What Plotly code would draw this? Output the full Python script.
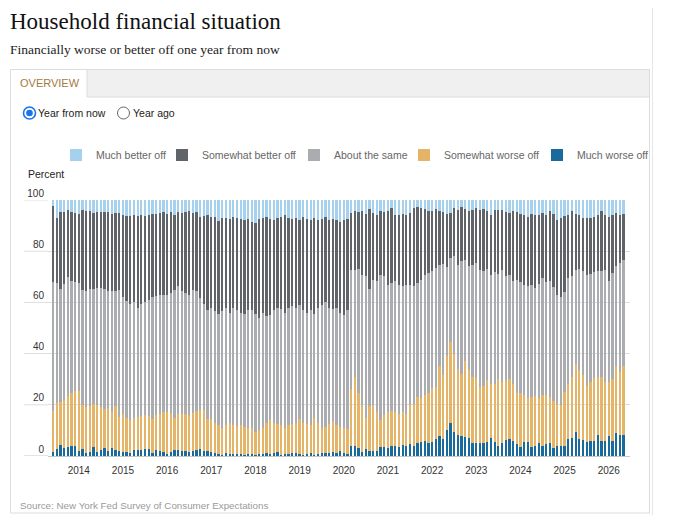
import pandas as pd
import plotly.graph_objects as go

# ---------------- data (percent of respondents, monthly Jun 2013 - May 2026) ----------------
months = pd.date_range("2013-06-01", periods=156, freq="MS").strftime("%Y-%m").tolist()

much_worse = [
    1.5, 2.8, 4.2, 3.3, 3.6, 3.8, 3.8, 2.0, 2.8, 1.2,
    1.5, 3.5, 1.5, 2.5, 3.0, 1.8, 3.0, 2.4, 2.0, 1.5,
    1.5, 1.0, 2.5, 2.5, 2.5, 2.8, 2.7, 1.0, 2.2, 2.0,
    1.5, 0.8, 1.5, 2.4, 2.2, 2.0, 1.8, 1.5, 2.0, 2.5,
    2.8, 1.8, 1.8, 1.5, 1.0, 0.7, 0.5, 1.0, 0.8, 0.8,
    0.7, 0.7, 0.5, 0.8, 0.8, 0.5, 0.7, 0.6, 1.0, 0.8,
    1.2, 1.5, 0.5, 0.6, 0.8, 1.3, 1.0, 0.6, 0.4, 0.8,
    1.0, 0.5, 0.7, 1.2, 1.0, 1.3, 1.6, 1.2, 1.8, 1.0,
    0.8, 4.0, 4.0, 3.0, 1.7, 2.7, 2.0, 1.8, 2.0, 3.6,
    3.5, 3.0, 4.0, 4.0, 3.5, 4.3, 4.0, 4.6, 3.8, 5.0,
    5.6, 5.9, 5.0, 5.3, 6.5, 8.0, 6.8, 10.0, 13.0, 9.3,
    8.2, 8.0, 7.6, 6.9, 5.0, 5.0, 5.0, 5.2, 5.6, 7.2,
    5.3, 4.0, 5.0, 6.3, 6.7, 5.9, 4.6, 3.7, 5.3, 5.6,
    3.7, 4.0, 5.0, 4.0, 4.6, 5.0, 3.0, 4.0, 4.0, 4.0,
    6.7, 7.2, 9.3, 6.5, 6.3, 5.6, 6.0, 6.0, 8.2, 6.0,
    6.0, 8.0, 5.9, 8.9, 8.2, 8.2,
]

somewhat_worse = [
    16.0, 18.0, 16.8, 18.7, 19.8, 20.9, 21.5, 23.3, 17.2, 17.8,
    18.0, 17.0, 18.5, 16.5, 15.3, 16.8, 14.3, 17.1, 13.3, 14.9,
    13.5, 13.0, 12.2, 12.8, 13.1, 13.2, 13.1, 13.3, 13.8, 14.6,
    15.5, 16.2, 15.4, 12.6, 14.2, 14.6, 14.6, 14.5, 14.9, 15.2,
    15.2, 16.2, 12.7, 12.8, 12.0, 11.6, 10.5, 11.0, 11.9, 11.5,
    11.1, 11.3, 11.0, 10.2, 10.2, 9.0, 9.3, 10.4, 12.0, 13.2,
    11.8, 11.0, 11.5, 10.4, 11.2, 11.2, 12.0, 13.9, 12.6, 11.7,
    11.0, 14.5, 12.3, 9.8, 10.5, 11.2, 11.9, 10.8, 9.7, 10.0,
    9.7, 22.0, 27.0, 21.5, 18.3, 12.3, 17.5, 18.2, 15.0, 10.4,
    12.5, 14.0, 13.5, 13.0, 13.0, 12.7, 12.5, 15.4, 16.7, 18.0,
    16.9, 18.1, 19.5, 21.2, 20.5, 27.0, 24.7, 29.0, 31.5, 30.7,
    25.8, 24.0, 29.4, 26.6, 26.0, 25.5, 22.0, 22.3, 23.9, 20.8,
    22.7, 26.0, 24.0, 23.2, 23.3, 22.1, 19.9, 20.8, 18.7, 16.9,
    19.3, 19.5, 17.5, 20.0, 19.4, 18.0, 18.5, 16.5, 16.0, 21.0,
    21.3, 23.8, 26.7, 27.0, 25.2, 21.9, 23.0, 24.5, 22.8, 25.0,
    23.0, 21.0, 24.1, 26.1, 24.8, 26.8,
]

about_same = [
    50.5, 46.6, 44.4, 45.0, 46.6, 43.6, 42.7, 42.4, 45.0, 45.4,
    45.8, 44.9, 45.8, 46.7, 47.0, 45.9, 47.1, 44.9, 49.5, 45.6,
    45.5, 45.2, 45.3, 42.7, 43.6, 44.0, 45.2, 47.7, 46.4, 46.1,
    45.7, 46.0, 46.6, 50.0, 50.0, 47.8, 47.3, 47.0, 48.1, 46.7,
    43.8, 41.2, 42.5, 43.7, 43.5, 43.3, 45.5, 46.0, 43.3, 45.7,
    45.4, 44.0, 44.0, 46.0, 46.0, 46.0, 44.0, 45.0, 41.5, 41.0,
    44.0, 45.5, 45.5, 45.0, 46.0, 46.0, 45.0, 44.5, 44.0, 43.5,
    45.0, 40.5, 45.0, 48.0, 48.5, 45.5, 44.0, 46.0, 44.5, 44.0,
    46.5, 46.8, 41.5, 48.7, 50.8, 55.2, 45.9, 48.9, 51.5, 56.6,
    54.2, 49.9, 50.1, 51.2, 50.4, 49.3, 50.2, 46.9, 45.8, 44.6,
    46.4, 46.8, 47.0, 45.9, 46.5, 39.5, 43.5, 34.7, 32.9, 38.0,
    40.8, 44.0, 39.7, 40.6, 43.8, 44.9, 45.8, 44.6, 43.7, 42.8,
    43.9, 41.1, 43.8, 40.7, 40.8, 40.5, 44.4, 43.5, 42.9, 43.8,
    43.7, 42.1, 44.7, 45.5, 44.0, 45.5, 44.5, 42.5, 42.0, 39.0,
    41.5, 39.2, 36.8, 39.7, 40.6, 43.3, 42.1, 41.4, 41.1, 41.4,
    43.8, 39.2, 41.5, 39.1, 42.4, 41.7,
]

somewhat_better = [
    29.8, 25.4, 30.1, 28.4, 26.0, 26.9, 27.0, 26.9, 31.0, 31.4,
    30.4, 29.4, 29.6, 29.7, 29.9, 30.7, 30.1, 30.6, 30.2, 32.1,
    33.3, 34.6, 34.0, 35.8, 34.8, 33.8, 33.0, 32.6, 32.2, 32.3,
    32.5, 31.6, 31.7, 29.3, 28.8, 30.6, 31.5, 32.7, 30.0, 31.0,
    31.7, 34.6, 37.0, 35.5, 37.0, 36.1, 36.5, 35.0, 36.5, 35.5,
    35.7, 36.5, 36.5, 35.5, 34.5, 35.5, 38.5, 37.0, 39.0, 37.5,
    35.0, 35.0, 36.0, 38.0, 35.0, 34.0, 35.0, 33.0, 36.5, 36.5,
    35.0, 37.5, 34.0, 33.5, 33.5, 34.0, 35.0, 34.0, 35.5, 37.0,
    35.5, 22.2, 23.1, 22.2, 25.1, 24.4, 30.9, 26.1, 25.5, 25.0,
    25.2, 29.0, 29.1, 26.1, 27.1, 28.3, 27.3, 28.1, 30.4, 29.6,
    28.1, 25.5, 24.4, 23.2, 22.8, 21.4, 20.4, 20.9, 17.6, 18.7,
    21.2, 21.1, 19.7, 21.7, 21.2, 21.3, 23.2, 24.3, 22.6, 23.5,
    24.1, 24.9, 23.2, 25.2, 24.2, 27.3, 26.5, 26.6, 27.1, 27.2,
    27.9, 28.4, 27.1, 25.5, 26.0, 27.1, 28.6, 29.0, 30.8, 29.7,
    24.8, 25.7, 21.8, 20.8, 20.9, 22.0, 21.9, 21.4, 21.9, 23.2,
    21.2, 25.1, 22.5, 20.9, 18.9, 17.9,
]

much_better = [
    2.2, 7.2, 4.5, 4.6, 4.0, 4.8, 5.0, 5.4, 4.0, 4.2,
    4.3, 5.2, 4.6, 4.6, 4.8, 4.8, 5.5, 5.0, 5.0, 5.9,
    6.2, 6.2, 6.0, 6.2, 6.0, 6.2, 6.0, 5.4, 5.4, 5.0,
    4.8, 5.4, 4.8, 5.7, 4.8, 5.0, 4.8, 4.3, 5.0, 4.6,
    6.5, 6.2, 6.0, 6.5, 6.5, 8.3, 7.0, 7.0, 7.5, 6.5,
    7.1, 7.5, 8.0, 7.5, 8.5, 9.0, 7.5, 7.0, 6.5, 7.5,
    8.0, 7.0, 6.5, 6.0, 7.0, 7.5, 7.0, 8.0, 6.5, 7.5,
    8.0, 7.0, 8.0, 7.5, 6.5, 8.0, 7.5, 8.0, 8.5, 8.0,
    7.5, 5.0, 4.4, 4.6, 4.1, 5.4, 3.7, 5.0, 6.0, 4.4,
    4.6, 4.1, 3.3, 5.7, 6.0, 5.4, 6.0, 5.0, 3.3, 2.8,
    3.0, 3.7, 4.1, 4.4, 3.7, 4.1, 4.6, 5.4, 5.0, 3.3,
    4.0, 2.9, 3.6, 4.2, 4.0, 3.3, 4.0, 3.6, 4.2, 5.7,
    4.0, 4.0, 4.0, 4.6, 5.0, 4.2, 4.6, 5.4, 6.0, 6.5,
    5.4, 6.0, 5.7, 5.0, 6.0, 4.4, 5.4, 8.0, 7.2, 6.3,
    5.7, 4.1, 5.4, 6.0, 7.0, 7.2, 7.0, 6.7, 6.0, 4.4,
    6.0, 6.7, 6.0, 5.0, 5.7, 5.4,
]

year_tick_vals = [f"{y}-01" for y in range(2014, 2027)]
year_tick_text = [str(y) for y in range(2014, 2027)]
y_ticks = [0, 20, 40, 60, 80, 100]

# ---------------- layout geometry ----------------
# The page body has a default 8px margin, so the figure is drawn 8px in from the
# window edge; all coordinates below are window pixels.
OFF = 8
W, H = 680 - 2 * OFF, 523 - 2 * OFF
PL, PR, PT, PB = 48, 630, 200, 456          # plot area in window pixels


def xp(px):
    return (px - PL) / (PR - PL)


def yp(py):
    return (PB - py) / (PB - PT)


# name, values, colour, legend id, legend left edge (window px)
series = [
    ("Much worse off", much_worse, "#1a6a9c", "legend5", 537),
    ("Somewhat worse off", somewhat_worse, "#e4b468", "legend4", 404),
    ("About the same", about_same, "#aaacaf", "legend3", 294),
    ("Somewhat better off", somewhat_better, "#606469", "legend2", 162),
    ("Much better off", much_better, "#a6d1ee", "legend", 56),
]

font_sans = "Liberation Sans, Arial, sans-serif"
font_serif = "Liberation Serif, Georgia, serif"

fig = go.Figure()
legend_layouts = {}
for name, vals, color, leg, left in series:
    fig.add_trace(go.Bar(
        x=months, y=vals, name=name,
        marker=dict(color=color, line=dict(width=0)),
        legend=leg,
        hovertemplate="%{x}: %{y}%<extra>" + name + "</extra>",
    ))
    legend_layouts[leg] = dict(
        orientation="h", x=xp(left), xanchor="left", y=yp(155), yanchor="middle",
        font=dict(family=font_sans, size=10.5, color="#666666"),
        bgcolor="rgba(0,0,0,0)", borderwidth=0,
        itemclick=False, itemdoubleclick=False,
    )

shapes = []
# outer container
shapes.append(dict(type="rect", xref="paper", yref="paper",
                   x0=xp(10.5), x1=xp(649.5), y0=yp(69.5), y1=yp(513),
                   line=dict(color="#dcdcdc", width=1), fillcolor="rgba(0,0,0,0)", layer="below"))
# tab strip
shapes.append(dict(type="rect", xref="paper", yref="paper",
                   x0=xp(87), x1=xp(649.5), y0=yp(69.5), y1=yp(97),
                   line=dict(color="#dcdcdc", width=1), fillcolor="#f0f0f0", layer="below"))
# page edge line
shapes.append(dict(type="line", xref="paper", yref="paper",
                   x0=xp(652.5), x1=xp(652.5), y0=yp(OFF), y1=yp(523 - OFF),
                   line=dict(color="#e6e6e6", width=1)))


def circle(cx, cy, r, **kw):
    return dict(type="circle", xref="paper", yref="paper",
                x0=xp(cx - r), x1=xp(cx + r), y0=yp(cy + r), y1=yp(cy - r), **kw)


# radio buttons
shapes.append(circle(29.5, 113, 6, line=dict(color="#1a73e8", width=1.6), fillcolor="white"))
shapes.append(circle(29.5, 113, 3.3, line=dict(width=0), fillcolor="#1a73e8"))
shapes.append(circle(123.5, 113, 6, line=dict(color="#666666", width=1), fillcolor="white"))
# grid line stubs to the left of the plot area (under the tick labels)
for v in y_ticks:
    shapes.append(dict(type="line", xref="paper", yref="y",
                       x0=xp(24), x1=0, y0=v, y1=v,
                       line=dict(color="#c8c8c8" if v == 0 else "#dedede", width=1),
                       layer="below"))


def ann(px, py, text, size, color, family=font_sans):
    return dict(xref="paper", yref="paper", x=xp(px), y=yp(py), text=text,
                showarrow=False, xanchor="left", yanchor="middle",
                font=dict(family=family, size=size, color=color))


annotations = [
    ann(8, 21, "Household financial situation", 23, "#111111", font_serif),
    ann(8, 49, "Financially worse or better off one year from now", 13.5, "#222222", font_serif),
    ann(18, 82.5, "OVERVIEW", 11, "#a47a3c"),
    ann(36, 113, "Year from now", 10.5, "#222222"),
    ann(131, 113, "Year ago", 10.5, "#222222"),
    ann(26, 173.5, "Percent", 10.5, "#222222"),
    ann(18, 505.5, "Source: New York Fed Survey of Consumer Expectations", 9.8, "#9a9a9a"),
]

fig.update_layout(
    width=W, height=H,
    margin=dict(l=PL - OFF, r=W - (PR - OFF), t=PT - OFF, b=H - (PB - OFF), pad=0),
    paper_bgcolor="white", plot_bgcolor="white",
    barmode="stack", bargap=0.38,
    font=dict(family=font_sans, size=10, color="#333333"),
    showlegend=True,
    shapes=shapes,
    annotations=annotations,
    hovermode="closest",
    **legend_layouts,
)
fig.update_xaxes(
    type="category", categoryorder="array", categoryarray=months,
    range=[-1.36, 156.77],
    tickmode="array", tickvals=year_tick_vals, ticktext=year_tick_text,
    showgrid=False, zeroline=False, ticks="",
    showline=True, linecolor="#c8c8c8", linewidth=1,
    ticklabelstandoff=5,
    tickfont=dict(size=10, color="#333333"),
    automargin=False, fixedrange=True,
)
fig.update_yaxes(
    range=[0, 100], tickmode="array", tickvals=y_ticks,
    showgrid=True, gridcolor="#dedede", gridwidth=1,
    zeroline=False, showline=False, ticks="",
    ticklabelposition="outside top", ticklabelstandoff=3,
    tickfont=dict(size=10, color="#333333"),
    automargin=False, fixedrange=True,
)

fig.write_html("out.html", config={"displayModeBar": False})
